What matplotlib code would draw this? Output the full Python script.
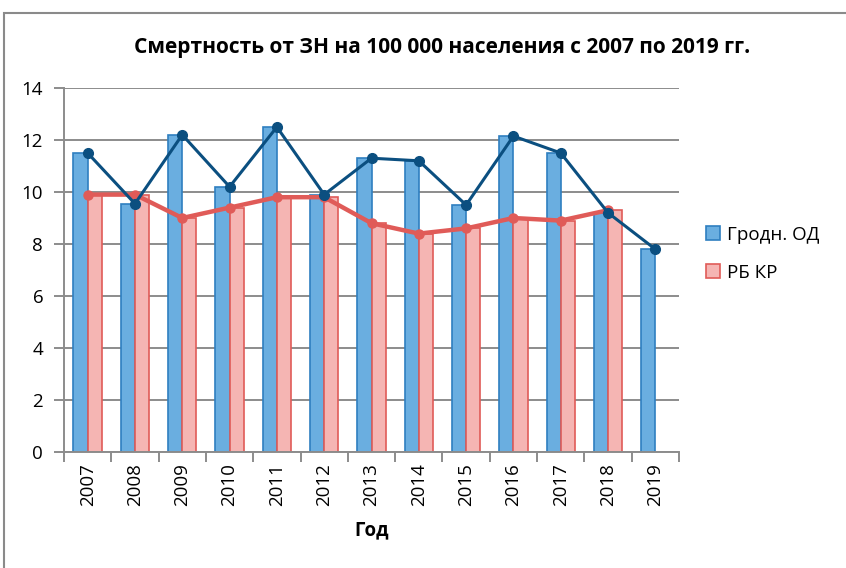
import matplotlib
matplotlib.use("Agg")
import matplotlib.pyplot as plt
import numpy as np
from matplotlib.patches import Rectangle

years = ["2007", "2008", "2009", "2010", "2011", "2012", "2013",
         "2014", "2015", "2016", "2017", "2018", "2019"]
grodno = [11.5, 9.55, 12.2, 10.2, 12.5, 9.9, 11.3, 11.2, 9.5, 12.15, 11.5, 9.2, 7.8]
rb_kr = [9.9, 9.9, 9.0, 9.4, 9.8, 9.8, 8.8, 8.4, 8.6, 9.0, 8.9, 9.3, np.nan]
yticks = [0, 2, 4, 6, 8, 10, 12, 14]

plt.rcParams['font.family'] = ['Open Sans', 'DejaVu Sans']

fig = plt.figure(figsize=(8.46, 5.68), dpi=100)
fig.patches.append(Rectangle((4/846, -0.1), 1.2, (568-12.5)/568 + 0.1,
                             transform=fig.transFigure, fill=False,
                             edgecolor='#8a8a8a', linewidth=1.5))
ax = fig.add_axes([64/846, (568-452)/568, (679-64)/846, (452-88)/568])

x = np.arange(len(years))
w = 0.3
blue_fill, blue_edge = '#6aaee0', '#2f7fc0'
red_fill, red_edge = '#f5b5b3', '#e05b58'

ax.bar(x - w/2, grodno, width=w, color=blue_fill, edgecolor=blue_edge,
       linewidth=1.2, label='Гродн. ОД', zorder=2)
ax.bar(x + w/2, rb_kr, width=w, color=red_fill, edgecolor=red_edge,
       linewidth=1.2, label='РБ КР', zorder=2)

ax.plot(x, grodno, color='#0b4f80', linewidth=2.2, marker='o',
        markersize=7, zorder=4)
ax.plot(x, rb_kr, color='#e05b58', linewidth=3.2, marker='o',
        markersize=6.5, zorder=3)

ax.set_xlim(-0.5, len(years) - 0.5)
ax.set_ylim(0, 14)
ax.set_yticks(yticks)
ax.set_yticklabels([str(t) for t in yticks], fontsize=13.5)
ax.yaxis.grid(True, color='#8c8c8c', linewidth=1.4, zorder=0)
ax.set_axisbelow(True)

ax.set_xticks(x)
ax.set_xticklabels(years, rotation=90, fontsize=13.5)
ax.tick_params(axis='x', length=0, pad=8)
ax.set_xticks(np.arange(-0.5, len(years)), minor=True)
ax.tick_params(axis='x', which='minor', length=7, color='#8c8c8c', width=1.4)
ax.tick_params(axis='y', length=7, color='#8c8c8c', width=1.4, pad=8)

for s in ['top', 'right']:
    ax.spines[s].set_visible(False)
for s in ['left', 'bottom']:
    ax.spines[s].set_color('#8c8c8c')
    ax.spines[s].set_linewidth(1.4)

ax.set_xlabel('Год', fontsize=13.5, fontweight='bold', labelpad=10)
fig.text(442/846, 1 - 48/568, 'Смертность от ЗН на 100 000 населения с 2007 по 2019 гг.',
         ha='center', va='center', fontsize=15, fontweight='bold')

leg = fig.legend(loc='upper left', bbox_to_anchor=(689/846, 1 - 209/568),
                 frameon=False, fontsize=13.5, handlelength=0.75, handleheight=0.75,
                 handletextpad=0.4, labelspacing=1.05)

fig.savefig('out.png', dpi=100)
